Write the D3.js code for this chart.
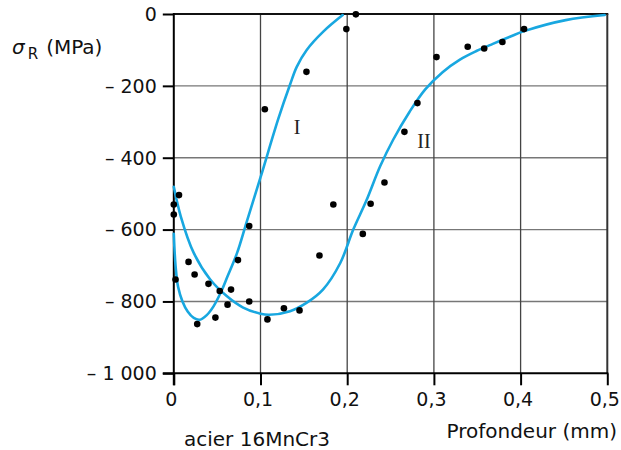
<!DOCTYPE html>
<html><head><meta charset="utf-8">
<script src="https://cdn.jsdelivr.net/npm/d3@7"></script>
<style>body{margin:0;background:#fff}svg{display:block}</style>
</head><body><svg id="c" width="621" height="450"></svg>
<script>
const xTicks = [0, 0.1, 0.2, 0.3, 0.4, 0.5];
const xTickLabels = ["0", "0,1", "0,2", "0,3", "0,4", "0,5"];
const yTicks = [0, -200, -400, -600, -800, -1000];
const yTickLabels = ["0", "– 200", "– 400", "– 600", "– 800", "– 1 000"];

// measured points (depth mm, residual stress MPa)
const pointsX = [0.000,0.000,0.006,0.002,0.017,0.024,0.040,0.027,0.048,0.053,0.066,0.062,0.074,0.087,0.087,0.108,0.127,0.145,0.168,0.184,0.218,0.227,0.243,0.266,0.281,0.303,0.339,0.358,0.379,0.404,0.105,0.153,0.199,0.210];
const pointsY = [-530,-558,-504,-739,-690,-725,-751,-863,-845,-771,-767,-809,-685,-590,-800,-850,-819,-825,-672,-530,-612,-528,-469,-328,-248,-120,-91,-96,-78,-42,-265,-161,-42,-1];

// curve I
const curveIX = [0.000,0.002,0.005,0.010,0.016,0.023,0.030,0.038,0.046,0.054,0.062,0.073,0.084,0.100,0.1205,0.134,0.1418,0.1533,0.1724,0.1948];
const curveIY = [-612,-700,-760,-800,-828,-846,-851,-838,-813,-776,-730,-665,-579,-455,-292,-197,-147,-100,-49,-3];
// curve II
const curveIIX = [0.000,0.008,0.023,0.042,0.061,0.080,0.100,0.110,0.134,0.153,0.172,0.192,0.207,0.222,0.238,0.253,0.272,0.290,0.310,0.330,0.349,0.368,0.387,0.405,0.452,0.497];
const curveIIY = [-481,-563,-665,-739,-785,-817,-834,-837,-827,-804,-767,-693,-600,-520,-424,-350,-272,-210,-162,-127,-103,-83,-64,-47,-17,-3];

const svg = d3.select("#c");
const x = d3.scaleLinear().domain([0, 0.5]).range([173.8, 607.3]);
const y = d3.scaleLinear().domain([-1000, 0]).range([373.3, 14]);
const font = "'DejaVu Sans', sans-serif";

// grid
svg.append("g").selectAll("line").data(yTicks.slice(1, 5)).join("line")
  .attr("x1", x(0)).attr("x2", x(0.5)).attr("y1", d => y(d)).attr("y2", d => y(d))
  .attr("stroke", "#777").attr("stroke-width", 1.4);
svg.append("g").selectAll("line").data(xTicks.slice(1, 5)).join("line")
  .attr("y1", y(0)).attr("y2", y(-1000)).attr("x1", d => x(d)).attr("x2", d => x(d))
  .attr("stroke", "#444").attr("stroke-width", 1.3);
// top and right border
svg.append("line").attr("x1", x(0)).attr("x2", x(0.5)+1).attr("y1", y(0)).attr("y2", y(0)).attr("stroke", "#111").attr("stroke-width", 2.2);
svg.append("line").attr("x1", x(0.5)).attr("x2", x(0.5)).attr("y1", y(0)).attr("y2", y(-1000)).attr("stroke", "#333").attr("stroke-width", 2);

// axes
const xAxis = d3.axisBottom(x).tickValues(xTicks).tickFormat((d, i) => xTickLabels[i]).tickSize(12).tickPadding(7).tickSizeOuter(0);
const gx = svg.append("g").attr("transform", `translate(0,${y(-1000)})`).call(xAxis);
gx.select(".domain").attr("stroke", "#000").attr("stroke-width", 2).attr("d", `M${x(0)-11},0H${x(0.5)+1}`);
gx.selectAll(".tick line").attr("stroke", "#000").attr("stroke-width", 2);
gx.selectAll(".tick text").attr("font-family", font).attr("font-size", 19).attr("fill", "#111").attr("dx", "-3");

const yAxis = d3.axisLeft(y).tickValues(yTicks).tickFormat((d, i) => yTickLabels[i]).tickSize(11).tickPadding(6).tickSizeOuter(0);
const gy = svg.append("g").attr("transform", `translate(${x(0)},0)`).call(yAxis);
gy.select(".domain").attr("stroke", "#000").attr("stroke-width", 2).attr("d", `M0,${y(0)-1}V${y(-1000)+12}`);
gy.selectAll(".tick line").attr("stroke", "#000").attr("stroke-width", 2);
gy.selectAll(".tick text").attr("font-family", font).attr("font-size", 19).attr("fill", "#111").attr("dy", "0.33em");

// curves
const line = d3.line().x(d => x(d[0])).y(d => y(d[1])).curve(d3.curveCatmullRom.alpha(0.5));
const cI = curveIX.map((v, i) => [v, curveIY[i]]);
const cII = curveIIX.map((v, i) => [v, curveIIY[i]]);
[cI, cII].forEach(c => svg.append("path").attr("d", line(c)).attr("fill", "none")
  .attr("stroke", "#18a7e0").attr("stroke-width", 2.6).attr("stroke-linecap", "round"));

// points
svg.append("g").selectAll("circle").data(pointsX.map((v, i) => [v, pointsY[i]])).join("circle")
  .attr("cx", d => x(d[0])).attr("cy", d => y(d[1])).attr("r", 3.3).attr("fill", "#000");

// curve labels
svg.append("text").attr("x", x(0.1422)).attr("y", 133.5).attr("text-anchor", "middle")
  .attr("font-family", "'Liberation Serif', serif").attr("font-size", 20).attr("fill", "#222").text("I");
svg.append("text").attr("x", x(0.2885)).attr("y", 148).attr("text-anchor", "middle")
  .attr("font-family", "'Liberation Serif', serif").attr("font-size", 20).attr("fill", "#222").text("II");

// axis titles
const yt = svg.append("text").attr("x", 12).attr("y", 53.5).attr("font-family", font).attr("font-size", 20).attr("fill", "#111");
yt.append("tspan").attr("font-style", "italic").text("σ");
yt.append("tspan").attr("font-size", 15).attr("dy", 5).attr("dx", 3).text("R");
yt.append("tspan").attr("dy", -5).attr("dx", 8).text("(MPa)");

svg.append("text").attr("x", 617).attr("y", 438).attr("text-anchor", "end")
  .attr("font-family", font).attr("font-size", 20).attr("fill", "#111").text("Profondeur (mm)");
svg.append("text").attr("x", 184).attr("y", 446)
  .attr("font-family", font).attr("font-size", 20).attr("fill", "#111").text("acier 16MnCr3");
</script></body></html>
